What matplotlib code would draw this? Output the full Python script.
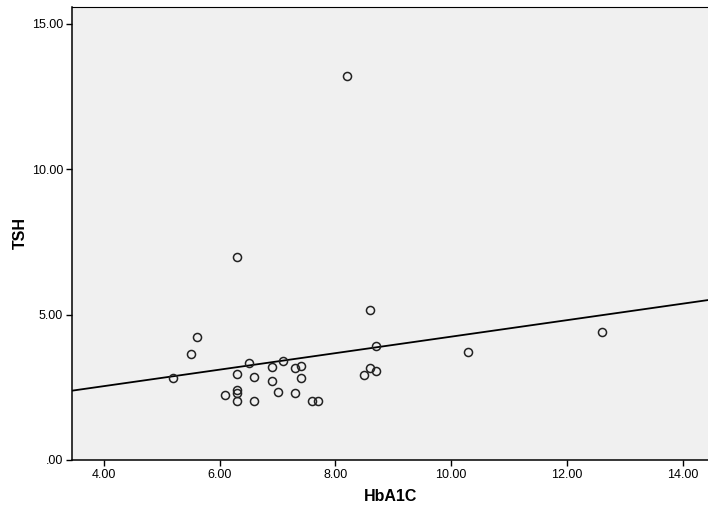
import numpy as np
import matplotlib
matplotlib.use("Agg")
import matplotlib.pyplot as plt
from matplotlib.ticker import FuncFormatter

# HbA1C vs TSH
hba1c = [5.2, 5.5, 5.6, 6.1, 6.3, 6.3, 6.3, 6.3, 6.5, 6.6,
         6.6, 6.9, 6.9, 7.0, 7.1, 7.3, 7.4, 7.4, 7.3, 7.6,
         7.7, 8.6, 8.7, 8.6, 8.5, 8.7, 10.3, 12.6, 6.3, 8.2]
tsh = [2.83, 3.64, 4.24, 2.24, 2.96, 2.41, 2.29, 2.03, 3.33, 2.87,
       2.04, 3.21, 2.73, 2.35, 3.40, 3.18, 3.23, 2.82, 2.29, 2.02,
       2.02, 5.15, 3.93, 3.18, 2.92, 3.06, 3.70, 4.41, 6.99, 13.21]
x_ticks = [4, 6, 8, 10, 12, 14]
y_ticks = [0, 5, 10, 15]

plt.rcParams["font.family"] = ["Liberation Sans", "DejaVu Sans"]

fig = plt.figure(figsize=(7.08, 5.12), dpi=100)
ax = fig.add_axes([0.1021, 0.1016, 0.8979, 0.8847])
ax.set_facecolor("#f0f0f0")

ax.set_xlim(3.452, 14.44)
ax.set_ylim(0, 15.58)

# linear fit line across the whole x range
slope, intercept = np.polyfit(hba1c, tsh, 1)
xs = np.array(ax.get_xlim())
ax.plot(xs, intercept + slope * xs, color="black", linewidth=1.3, zorder=2)

ax.plot(hba1c, tsh, "o", markerfacecolor="none", markeredgecolor="#222222",
        markersize=5.8, markeredgewidth=1.1, zorder=3)

ax.set_xticks(x_ticks)
ax.set_yticks(y_ticks)
fmt = FuncFormatter(lambda v, p: ".00" if v == 0 else "%.2f" % v)
ax.xaxis.set_major_formatter(fmt)
ax.yaxis.set_major_formatter(fmt)
ax.tick_params(direction="out", length=4, width=1, labelsize=9, pad=2.5)

for s in ["left", "bottom"]:
    ax.spines[s].set_linewidth(1.1)
ax.spines["top"].set_linewidth(0.8)
ax.spines["right"].set_visible(False)

ax.set_xlabel("HbA1C", fontsize=11.5, fontweight="bold", labelpad=5.5)
ax.set_ylabel("TSH", fontsize=11.5, fontweight="bold", labelpad=3)

fig.savefig("out.png", dpi=100)
